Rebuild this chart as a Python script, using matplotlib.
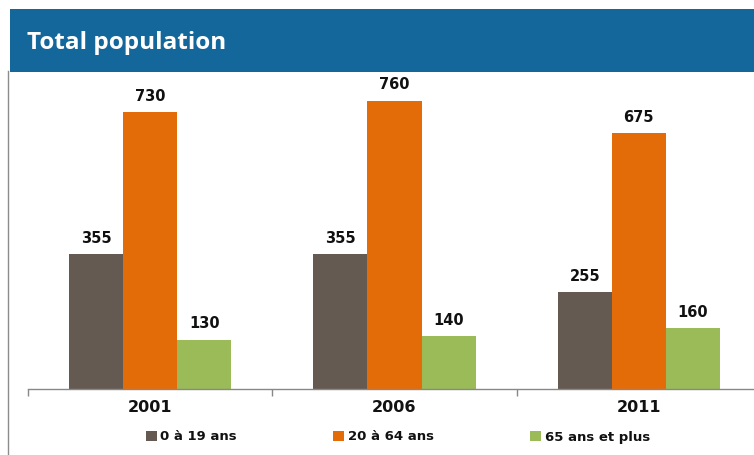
import matplotlib
matplotlib.use("Agg")
import matplotlib.pyplot as plt
from matplotlib.patches import Rectangle
from matplotlib.lines import Line2D

years = ["2001", "2006", "2011"]
groups = ["0 à 19 ans", "20 à 64 ans", "65 ans et plus"]
age_0_19 = [355, 355, 255]
age_20_64 = [730, 760, 675]
age_65_plus = [130, 140, 160]

colors = ["#655A52", "#E36C09", "#9BBB59"]
header_blue = "#14679B"

W, H = 754, 455
fig = plt.figure(figsize=(W / 100, H / 100), dpi=100)
fig.patch.set_facecolor("white")

# header band with title
fig.patches.append(Rectangle((10 / W, 1 - 72 / H), 1, 63 / H, transform=fig.transFigure,
                             facecolor=header_blue, edgecolor="none", zorder=0))
fig.text(27 / W, 1 - 43 / H, "Total population", color="white", fontsize=17.5,
         fontweight="bold", family="Open Sans", va="center", ha="left")

# thin frame line on the left
fig.lines.append(Line2D([8 / W, 8 / W], [0, 1 - 71 / H], transform=fig.transFigure,
                        color="#8C8C8C", lw=1.0))

ax = fig.add_axes([28 / W, 1 - 389 / H, 733 / W, (389 - 75) / H])
px_per_cat = 244.3
bw = 54 / px_per_cat

for i, (vals, c) in enumerate(zip([age_0_19, age_20_64, age_65_plus], colors)):
    xs = [k + (i - 1) * bw for k in range(len(years))]
    ax.bar(xs, vals, width=bw, color=c, label=groups[i], zorder=2)
    for xv, v in zip(xs, vals):
        ax.text(xv, v + 22, str(v), ha="center", va="bottom", fontsize=10.5,
                fontweight="bold", color="#111111")

ax.set_xlim(-0.5, 2.5)
ax.set_ylim(0, (389 - 75) / (277 / 730))
for s in ["top", "right", "left"]:
    ax.spines[s].set_visible(False)
ax.spines["bottom"].set_color("#888888")
ax.spines["bottom"].set_linewidth(1.0)
ax.set_yticks([])
ax.set_xticks([-0.5, 0.5, 1.5, 2.5])
ax.set_xticklabels([])
ax.tick_params(axis="x", length=5, color="#888888", width=1.0)
for k, y in enumerate(years):
    ax.text(k, -28, y, ha="center", va="top", fontsize=11.5, fontweight="bold",
            color="#111111")

leg = fig.legend(loc="center", bbox_to_anchor=(398 / W, 1 - 437 / H), ncol=3,
                 frameon=False, fontsize=9.5, handlelength=0.8, handleheight=0.8,
                 handletextpad=0.3, columnspacing=7.3)
for t in leg.get_texts():
    t.set_fontweight("bold")
    t.set_color("#111111")

fig.savefig("out.png", dpi=100)
